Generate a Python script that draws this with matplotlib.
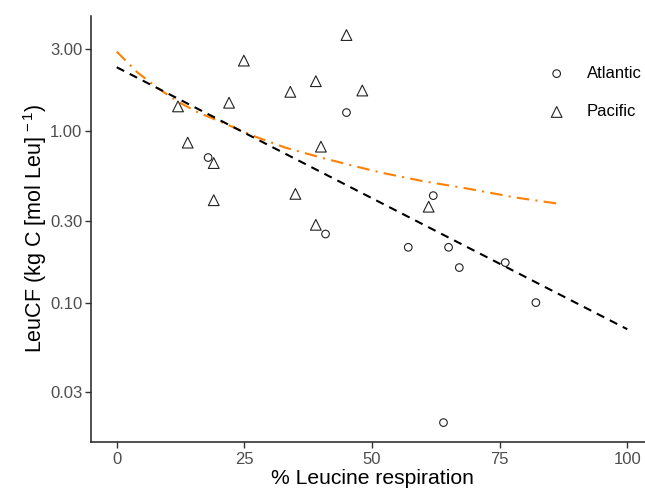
import numpy as np
import matplotlib
matplotlib.use("Agg")
import matplotlib.pyplot as plt

plt.rcParams['font.family'] = ['Liberation Sans', 'DejaVu Sans']
plt.rcParams['mathtext.fontset'] = 'custom'
plt.rcParams['mathtext.rm'] = 'Liberation Sans'
plt.rcParams['mathtext.it'] = 'Liberation Sans'

# Data
atl_x = [45.0, 17.9, 40.9, 62.0, 57.1, 65.0, 67.1, 76.1, 82.1, 64.0]
atl_y = [1.28, 0.70, 0.251, 0.42, 0.21, 0.21, 0.16, 0.171, 0.100, 0.020]

pac_x = [45.0, 24.9, 39.0, 34.0, 48.1, 12.0, 22.0, 13.9, 40.0, 19.0, 19.0, 35.0, 39.0, 61.1]
pac_y = [3.62, 2.57, 1.95, 1.69, 1.72, 1.39, 1.46, 0.855, 0.81, 0.65, 0.395, 0.43, 0.284, 0.362]

fit_x = [0, 100]
fit_y = [2.35, 0.07]

curve_x = [0, 4, 8, 12, 16, 21, 27, 33, 40, 46, 52, 60, 69, 78, 87]
curve_y = [2.9, 2.2, 1.78, 1.48, 1.28, 1.11, 0.93, 0.80, 0.70, 0.63, 0.57, 0.51, 0.46, 0.41, 0.375]

x_ticks = [0, 25, 50, 75, 100]
y_ticks = [0.03, 0.10, 0.30, 1.00, 3.00]
y_ticklabels = ["0.03", "0.10", "0.30", "1.00", "3.00"]

W, H = 645, 492
fig = plt.figure(figsize=(W / 100, H / 100), dpi=100)
left, right, top, bottom = 91.2, 652.8, 15.6, 442
ax = fig.add_axes([left / W, 1 - bottom / H, (right - left) / W, (bottom - top) / H])

ax.set_yscale('log')
ax.set_xlim(-5, 105)
ax.set_ylim(10 ** -1.812, 10 ** 0.672)

ax.plot(curve_x, curve_y, color='#FF7F00', lw=1.5, dashes=(6, 3, 1, 3))
ax.plot(fit_x, fit_y, color='black', lw=1.5, dashes=(4, 3))

ax.scatter(atl_x, atl_y, marker='o', s=30, facecolors='none', edgecolors='#222222',
           linewidths=0.8, label='Atlantic', zorder=3)
ax.scatter(pac_x, pac_y, marker='^', s=60, facecolors='none', edgecolors='#222222',
           linewidths=0.8, label='Pacific', zorder=3)

ax.set_xticks(x_ticks)
ax.set_xticklabels([str(t) for t in x_ticks])
ax.set_yticks(y_ticks)
ax.set_yticklabels(y_ticklabels)
ax.minorticks_off()

for s in ['top', 'right']:
    ax.spines[s].set_visible(False)
for s in ['left', 'bottom']:
    ax.spines[s].set_linewidth(1.1)
    ax.spines[s].set_color('#222222')

ax.tick_params(axis='both', which='major', length=4.5, width=1.0, color='#333333',
               labelcolor='#4D4D4D', labelsize=12, pad=2)
ax.tick_params(axis='x', pad=2.5)

ax.set_xlabel('% Leucine respiration', fontsize=15.2, labelpad=2, color='black')
ax.set_ylabel('LeuCF (kg C [mol Leu]$^{\\,-1}$)', fontsize=15.5, labelpad=1, color='black')

leg = ax.legend(loc='upper left', bbox_to_anchor=(540 / W, 1 - 66 / H),
                bbox_transform=fig.transFigure, frameon=False, fontsize=12,
                labelspacing=1.4, handletextpad=0.8, borderpad=0, borderaxespad=0)

fig.savefig('out.png', dpi=100)
